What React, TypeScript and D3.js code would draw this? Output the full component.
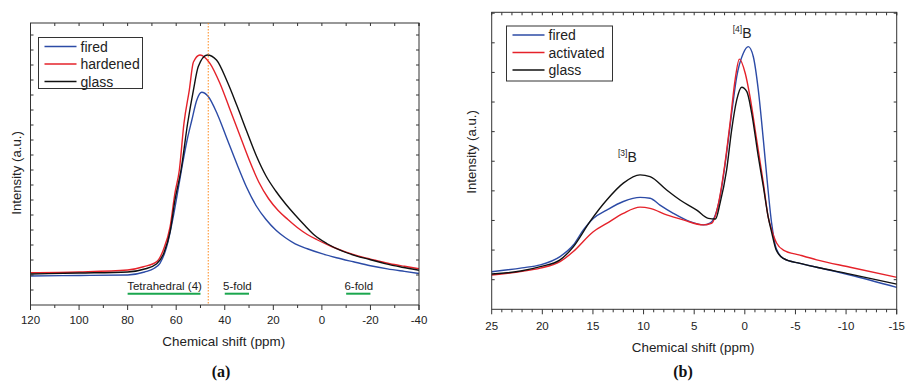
import React, { useEffect, useRef } from 'react';
import * as d3 from 'd3';

// ---- panel (a) : ppm vs intensity (arbitrary units)
const aPpmFired = [120, 100, 80, 73, 69, 66.7, 63.9, 61.2, 59.1, 57.5, 55.5, 53.6, 51.5, 49.5, 46.8, 43, 39, 35, 31, 27, 23, 19, 15, 11, 6, 0, -6, -13, -20, -27, -34, -40];
const aFired = [1.93, 1.97, 2.0, 2.2, 2.45, 2.78, 3.89, 5.89, 7.8, 9.3, 11.0, 12.3, 13.67, 14.18, 13.9, 12.7, 11.05, 9.4, 7.85, 6.6, 5.7, 5.0, 4.48, 4.08, 3.75, 3.42, 3.15, 2.88, 2.62, 2.41, 2.24, 2.1];
const aPpmHardened = [120, 100, 80, 73.5, 68, 65.3, 62.5, 60.5, 58.7, 56.8, 54.6, 52.9, 50.2, 46.1, 42, 38, 34, 30, 26, 22, 18, 14, 10, 6, 2, -4, -10, -16, -22, -28, -34, -40];
const aHardened = [2.15, 2.2, 2.33, 2.55, 2.89, 3.67, 5.22, 7.47, 9.0, 12.11, 14.33, 16.2, 16.67, 16.11, 14.78, 13.1, 11.4, 9.7, 8.2, 7.1, 6.3, 5.7, 5.15, 4.7, 4.35, 3.9, 3.52, 3.22, 2.98, 2.75, 2.58, 2.42];
const aPpmGlass = [120, 100, 80, 73, 68, 65, 62.5, 60.5, 58, 55.3, 52.9, 50.9, 47.2, 43.4, 39, 35, 31, 27, 23, 19, 15, 11, 7, 3, -2, -8, -14, -20, -26, -33, -40];
const aGlass = [2.07, 2.13, 2.2, 2.4, 2.75, 3.5, 4.9, 7.0, 9.0, 12.1, 14.33, 15.9, 16.67, 16.33, 14.9, 13.3, 11.6, 9.95, 8.6, 7.6, 6.75, 6.0, 5.3, 4.65, 4.1, 3.62, 3.28, 3.02, 2.76, 2.52, 2.32];
const aTicks = [120, 100, 80, 60, 40, 20, 0, -20, -40];
const aLegend = ['fired', 'hardened', 'glass'];
const aMarker = 46.8;
const bandLabels = ['Tetrahedral (4)', '5-fold', '6-fold'];
const bandFrom = [80, 40, -10];
const bandTo = [50, 30, -20];

// ---- panel (b)
const bPpmFired = [25, 22, 20.2, 18.25, 16.94, 15.95, 14.97, 13.64, 12.0, 10.35, 9.36, 8.38, 7.06, 5.41, 4.1, 3.4, 2.45, 1.8, 1.3, 0.8, 0.15, -0.34, -0.84, -1.33, -1.83, -2.2, -2.65, -3.1, -3.8, -5.45, -7.1, -10.4, -15];
const bFired = [1.27, 1.4, 1.5, 1.78, 2.17, 2.68, 3.07, 3.35, 3.64, 3.78, 3.75, 3.52, 3.24, 2.96, 2.85, 2.92, 3.8, 5.27, 6.62, 7.86, 8.65, 8.87, 8.53, 7.41, 5.72, 4.37, 2.9, 2.05, 1.72, 1.55, 1.42, 1.16, 0.74];
const bPpmActivated = [25, 22, 20.2, 18.25, 16.94, 14.97, 13.64, 12.0, 10.35, 9.36, 7.72, 6.08, 4.1, 3.3, 2.6, 1.96, 1.46, 0.96, 0.54, -0.04, -0.51, -1.17, -1.83, -2.3, -2.65, -3.15, -3.8, -5.45, -7.1, -10.4, -15];
const bActivated = [1.16, 1.28, 1.39, 1.61, 1.95, 2.62, 2.9, 3.24, 3.45, 3.41, 3.19, 3.02, 2.85, 2.9, 3.58, 4.93, 6.28, 7.75, 8.45, 7.97, 7.18, 5.72, 4.26, 3.13, 2.68, 2.23, 2.0, 1.83, 1.67, 1.42, 1.08];
const bPpmGlass = [25, 22, 20.2, 18.25, 16.94, 15.3, 13.64, 12.0, 10.35, 9.36, 7.72, 6.4, 4.75, 3.6, 2.9, 2.45, 1.8, 1.3, 0.8, 0.31, -0.2, -0.68, -1.33, -1.83, -2.3, -2.65, -3.1, -3.8, -5.45, -7.1, -10.4, -15];
const bGlass = [1.19, 1.3, 1.44, 1.67, 2.11, 2.96, 3.69, 4.26, 4.54, 4.48, 4.03, 3.69, 3.35, 3.07, 3.05, 3.58, 4.7, 6.06, 7.07, 7.5, 7.35, 6.62, 5.16, 4.14, 3.13, 2.6, 2.0, 1.72, 1.55, 1.42, 1.19, 0.85];
const bTicks = [25, 20, 15, 10, 5, 0, -5, -10, -15];
const bLegend = ['fired', 'activated', 'glass'];

const colors = ['#2c4ba6', '#e5222a', '#111111'];
const FONT = '"Liberation Sans", Arial, sans-serif';
const INK = '#222';

function drawPanel(svg, cfg) {
  const x = d3.scaleLinear().domain(cfg.xDomain).range([cfg.left, cfg.right]);
  const y = d3.scaleLinear().domain(cfg.yDomain).range([cfg.bottom, cfg.top]);
  const g = svg.append('g');

  // curves (ppm decreasing -> pixel x increasing, so monotoneX is fine)
  const line = d3.line().x(d => x(d[0])).y(d => y(d[1])).curve(d3.curveMonotoneX);
  cfg.series.forEach((s, i) => {
    g.append('path')
      .attr('d', line(d3.zip(s[0], s[1])))
      .attr('fill', 'none')
      .attr('stroke', colors[i])
      .attr('stroke-width', 1.4);
  });

  // frame
  g.append('rect')
    .attr('x', cfg.left).attr('y', cfg.top)
    .attr('width', cfg.right - cfg.left).attr('height', cfg.bottom - cfg.top)
    .attr('fill', 'none').attr('stroke', '#333').attr('stroke-width', 1);

  // bottom ticks (outward), top ticks (inward)
  const minor = d3.range(cfg.xDomain[0], cfg.xDomain[1] - 0.001, -cfg.minorStep);
  minor.push(cfg.xDomain[1]);
  minor.forEach(v => {
    const major = cfg.ticks.includes(v);
    g.append('line').attr('x1', x(v)).attr('x2', x(v))
      .attr('y1', cfg.bottom).attr('y2', cfg.bottom + (major ? 5 : 3))
      .attr('stroke', '#333');
    g.append('line').attr('x1', x(v)).attr('x2', x(v))
      .attr('y1', cfg.top).attr('y2', cfg.top + 3)
      .attr('stroke', '#333');
  });
  cfg.ticks.forEach(v => {
    g.append('text').attr('x', x(v)).attr('y', cfg.labelY)
      .attr('text-anchor', 'middle').attr('font-family', FONT)
      .attr('font-size', 11.5).attr('fill', INK).text(v);
  });
  // left / right ticks (inward)
  d3.range(1, Math.floor(cfg.yDomain[1]) + 1).forEach(v => {
    g.append('line').attr('x1', cfg.left).attr('x2', cfg.left + 3)
      .attr('y1', y(v)).attr('y2', y(v)).attr('stroke', '#333');
    g.append('line').attr('x1', cfg.right).attr('x2', cfg.right - 3)
      .attr('y1', y(v)).attr('y2', y(v)).attr('stroke', '#333');
  });

  // axis titles
  g.append('text').attr('x', (cfg.left + cfg.right) / 2 - 1).attr('y', cfg.titleY)
    .attr('text-anchor', 'middle').attr('font-family', FONT)
    .attr('font-size', 13.4).attr('fill', INK).text('Chemical shift (ppm)');
  g.append('text').attr('transform', `translate(${cfg.yTitleX},${cfg.yTitleY}) rotate(-90)`)
    .attr('text-anchor', 'middle').attr('font-family', FONT)
    .attr('font-size', 13.2).attr('fill', INK).text('Intensity (a.u.)');
  g.append('text').attr('x', cfg.captionX).attr('y', 377)
    .attr('text-anchor', 'middle').attr('font-family', '"Liberation Serif", "DejaVu Serif", serif')
    .attr('font-weight', 'bold').attr('font-size', 16).attr('fill', '#111').text(cfg.caption);

  // legend
  const lg = g.append('g');
  lg.append('rect').attr('x', cfg.legend.x).attr('y', cfg.legend.y)
    .attr('width', cfg.legend.w).attr('height', cfg.legend.h)
    .attr('fill', '#fff').attr('stroke', '#333').attr('stroke-width', 1);
  cfg.legendNames.forEach((name, i) => {
    const yy = cfg.legend.y + 9 + i * 17.5;
    lg.append('line').attr('x1', cfg.legend.x + 6).attr('x2', cfg.legend.x + 38)
      .attr('y1', yy).attr('y2', yy).attr('stroke', colors[i]).attr('stroke-width', 1.4);
    lg.append('text').attr('x', cfg.legend.x + 42).attr('y', yy + 5)
      .attr('font-family', FONT).attr('font-size', 14).attr('fill', INK).text(name);
  });
  return { x, y, g };
}

export default function App() {
  const ref = useRef(null);
  useEffect(() => {
    document.body.style.margin = '0';
    const svg = d3.select(ref.current);
    svg.selectAll('*').remove();

    const A = drawPanel(svg, {
      xDomain: [120, -40], yDomain: [0, 18.8],
      left: 30.5, right: 419, top: 23, bottom: 305,
      minorStep: 10, ticks: aTicks, labelY: 324, titleY: 346,
      yTitleX: 21, yTitleY: 173, caption: '(a)', captionX: 221,
      series: [[aPpmFired, aFired], [aPpmHardened, aHardened], [aPpmGlass, aGlass]],
      legend: { x: 38.5, y: 37.5, w: 104, h: 51 }, legendNames: aLegend,
    });
    // dotted marker line
    A.g.append('line').attr('x1', A.x(aMarker)).attr('x2', A.x(aMarker))
      .attr('y1', 23).attr('y2', 305)
      .attr('stroke', '#ff8a1c').attr('stroke-width', 1).attr('stroke-dasharray', '1.5,1.5');
    // coordination bands
    bandLabels.forEach((label, i) => {
      A.g.append('line').attr('x1', A.x(bandFrom[i])).attr('x2', A.x(bandTo[i]))
        .attr('y1', 293.7).attr('y2', 293.7).attr('stroke', '#1aa64e').attr('stroke-width', 2);
      A.g.append('text').attr('x', (A.x(bandFrom[i]) + A.x(bandTo[i])) / 2 + 0.5).attr('y', 289.5)
        .attr('text-anchor', 'middle').attr('font-family', FONT).attr('font-size', 11.5)
        .attr('fill', INK).text(label);
    });

    const B = drawPanel(svg, {
      xDomain: [25, -15], yDomain: [0, 10.03],
      left: 491.7, right: 896.7, top: 12.3, bottom: 309.3,
      minorStep: 1, ticks: bTicks, labelY: 330, titleY: 352,
      yTitleX: 476, yTitleY: 152, caption: '(b)', captionX: 683,
      series: [[bPpmFired, bFired], [bPpmActivated, bActivated], [bPpmGlass, bGlass]],
      legend: { x: 506.5, y: 26, w: 106, h: 55 }, legendNames: bLegend,
    });
    const peakLabel = (xx, yy, sup) => {
      const t = B.g.append('text').attr('x', xx).attr('y', yy)
        .attr('font-family', FONT).attr('fill', INK);
      t.append('tspan').attr('font-size', 8.5).attr('dy', -6).text(`[${sup}]`);
      t.append('tspan').attr('font-size', 14).attr('dy', 6).text('B');
    };
    peakLabel(618, 162.3, 3);
    peakLabel(732.7, 38.3, 4);
  }, []);
  return <svg ref={ref} width={906} height={381} style={{ display: 'block', background: '#fff' }} />;
}
